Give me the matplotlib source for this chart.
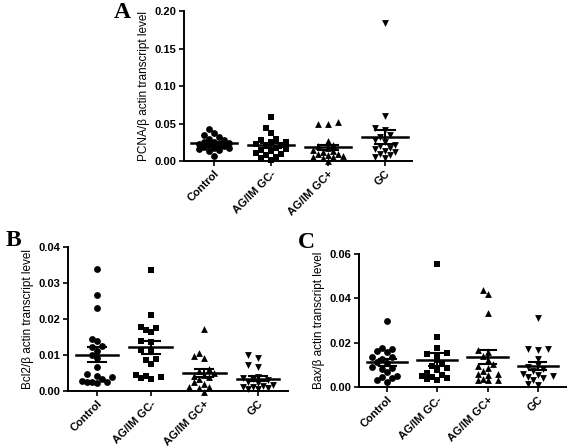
import numpy as np
import matplotlib
matplotlib.use("Agg")
import matplotlib.pyplot as plt

plt.rcParams['font.family'] = ['Liberation Sans', 'DejaVu Sans']

groups = ["Control", "AG/IM GC-", "AG/IM GC+", "GC"]
markers = ["o", "s", "^", "v"]

# Panel A: PCNA
pcna_control = [0.043, 0.037, 0.035, 0.032, 0.030, 0.028, 0.026, 0.025, 0.024, 0.023,
                0.022, 0.021, 0.020, 0.019, 0.018, 0.017, 0.016, 0.015, 0.013, 0.007]
pcna_gc_neg = [0.059, 0.044, 0.037, 0.030, 0.028, 0.026, 0.025, 0.023, 0.022, 0.020,
               0.018, 0.016, 0.015, 0.013, 0.011, 0.010, 0.008, 0.006, 0.004, 0.002]
pcna_gc_pos = [0.052, 0.050, 0.049, 0.027, 0.022, 0.020, 0.017, 0.015, 0.013, 0.012,
               0.010, 0.009, 0.008, 0.007, 0.006, 0.005, 0.004, 0.000]
pcna_gc = [0.184, 0.060, 0.044, 0.042, 0.035, 0.032, 0.028, 0.025, 0.022, 0.020,
           0.018, 0.016, 0.014, 0.012, 0.010, 0.008, 0.006, 0.004]

# Panel B: Bcl2
bcl2_control = [0.0338, 0.0267, 0.0230, 0.0145, 0.0138, 0.0124, 0.0122, 0.0112, 0.0100, 0.0092,
                0.0068, 0.0047, 0.0043, 0.0038, 0.0033, 0.0028, 0.0026, 0.0025, 0.0024, 0.0023]
bcl2_gc_neg = [0.0335, 0.0210, 0.0178, 0.0175, 0.0170, 0.0163, 0.0140, 0.0137, 0.0115, 0.0110,
               0.0085, 0.0088, 0.0075, 0.0045, 0.0043, 0.0040, 0.0036, 0.0034]
bcl2_gc_pos = [0.0173, 0.0105, 0.0096, 0.0092, 0.0060, 0.0055, 0.0050, 0.0045, 0.0042, 0.0038,
               0.0033, 0.0025, 0.0020, 0.0012, 0.0010, 0.0008, -0.0002]
bcl2_gc = [0.0099, 0.0093, 0.0072, 0.0067, 0.0040, 0.0036, 0.0033, 0.0030, 0.0025, 0.0022,
           0.0018, 0.0015, 0.0012, 0.0010, 0.0008, 0.0006, 0.0005]

# Panel C: Bax
bax_control = [0.0298, 0.0174, 0.0172, 0.0162, 0.0158, 0.0137, 0.0135, 0.0128, 0.0114, 0.0107,
               0.0092, 0.0084, 0.0082, 0.0069, 0.0050, 0.0047, 0.0039, 0.0030, 0.0024]
bax_gc_neg = [0.0555, 0.0225, 0.0178, 0.0155, 0.0150, 0.0145, 0.0120, 0.0105, 0.0095, 0.0085,
              0.0075, 0.0065, 0.0055, 0.0050, 0.0045, 0.0040, 0.0035, 0.0030]
bax_gc_pos = [0.0438, 0.0420, 0.0335, 0.0168, 0.0160, 0.0140, 0.0120, 0.0105, 0.0095, 0.0085,
              0.0070, 0.0060, 0.0058, 0.0055, 0.0035, 0.0033, 0.0030, 0.0030]
bax_gc = [0.0310, 0.0172, 0.0170, 0.0168, 0.0125, 0.0100, 0.0090, 0.0080, 0.0070, 0.0060,
          0.0055, 0.0050, 0.0045, 0.0040, 0.0030, 0.0015, 0.0008]


def swarm_offsets(ax, xc, values, diam_px, max_px=15):
    """Beeswarm-like spread, limited in width; overlaps allowed once column is full."""
    order = np.argsort(values)
    placed = []
    offs = np.zeros(len(values))
    px_per_x = ax.transData.transform((1, 0))[0] - ax.transData.transform((0, 0))[0]
    cands = [0.0]
    for j in range(1, 4):
        cands += [-j * max_px / 3, j * max_px / 3]
    for i in order:
        ypx = ax.transData.transform((xc, values[i]))[1]
        best, best_d = 0.0, -1
        for c in cands:
            d = min([np.hypot(c - px, ypx - py) for px, py in placed] + [1e9])
            if d >= diam_px:
                best = c
                break
            if d > best_d:
                best, best_d = c, d
        placed.append((best, ypx))
        offs[i] = best / px_per_x
    return offs


def dot_panel(ax, data, ymax, yticks, ylabel, xlim, labelpad):
    ax.set_xlim(*xlim)
    ax.set_ylim(0, ymax)
    for s in ["top", "right"]:
        ax.spines[s].set_visible(False)
    for s in ["left", "bottom"]:
        ax.spines[s].set_linewidth(1.4)
    for i, vals in enumerate(data):
        xc = i + 1
        vals = np.array(vals)
        offs = swarm_offsets(ax, xc, vals, 5.5)
        ax.scatter(xc + offs, vals, marker=markers[i], s=24, color="black",
                   linewidths=0, clip_on=False, zorder=3)
        m = vals.mean()
        sem = vals.std(ddof=1) / np.sqrt(len(vals))
        ax.plot([xc - 0.4, xc + 0.4], [m, m], color="black", lw=1.8, zorder=4)
        ax.plot([xc, xc], [m - sem, m + sem], color="black", lw=1.5, zorder=4)
        for y in (m - sem, m + sem):
            ax.plot([xc - 0.17, xc + 0.17], [y, y], color="black", lw=1.5, zorder=4)
    ax.set_yticks(yticks)
    ax.set_yticklabels([f"{t:.2f}" for t in yticks], fontsize=8, fontweight="bold")
    ax.set_xticks(range(1, len(groups) + 1))
    ax.set_xticklabels(groups, rotation=45, ha="right", rotation_mode="anchor",
                       fontsize=8, fontweight="bold")
    ax.tick_params(axis="both", direction="out", length=3.5, width=1.2, pad=2)
    ax.set_ylabel(ylabel, fontsize=8.5, labelpad=labelpad)


fig = plt.figure(figsize=(5.67, 4.48), dpi=100)

axA = fig.add_axes([0.3245, 0.6406, 0.402, 0.3348])
axB = fig.add_axes([0.120, 0.1272, 0.388, 0.3214])
axC = fig.add_axes([0.633, 0.1362, 0.365, 0.2969])

dot_panel(axA, [pcna_control, pcna_gc_neg, pcna_gc_pos, pcna_gc], 0.20,
          [0, 0.05, 0.10, 0.15, 0.20], "PCNA/\u03b2 actin transcript level", (0.47, 4.47), 3)
dot_panel(axB, [bcl2_control, bcl2_gc_neg, bcl2_gc_pos, bcl2_gc], 0.04,
          [0, 0.01, 0.02, 0.03, 0.04], "Bcl2/\u03b2 actin transcript level", (0.46, 4.56), 3)
dot_panel(axC, [bax_control, bax_gc_neg, bax_gc_pos, bax_gc], 0.06,
          [0, 0.02, 0.04, 0.06], "Bax/\u03b2 actin transcript level", (0.44, 4.56), 3)

for txt, x, y in [("A", 0.215, 0.971), ("B", 0.023, 0.464), ("C", 0.541, 0.458)]:
    fig.text(x, y, txt, fontsize=17, fontweight="bold", family="Liberation Serif",
             ha="center", va="center")

fig.savefig("out.png", dpi=100)
